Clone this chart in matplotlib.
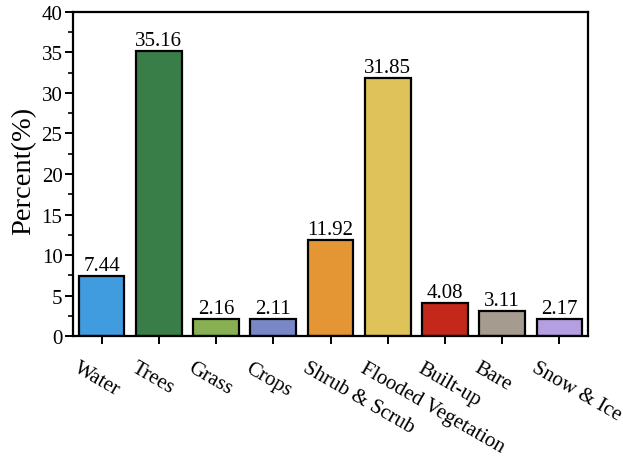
import matplotlib
matplotlib.use("Agg")
import matplotlib.pyplot as plt
from matplotlib.ticker import MultipleLocator

categories = ["Water", "Trees", "Grass", "Crops", "Shrub & Scrub",
              "Flooded Vegetation", "Built-up", "Bare", "Snow & Ice"]
percent = [7.44, 35.16, 2.16, 2.11, 11.92, 31.85, 4.08, 3.11, 2.17]
colors = ["#419BDF", "#397D49", "#88B053", "#7A87C6", "#E49635",
          "#DFC35A", "#C4281B", "#A59B8F", "#B39FE1"]

plt.rcParams["font.family"] = ["Liberation Serif", "DejaVu Serif"]

fig = plt.figure(figsize=(6.23, 4.60), dpi=100)
ax = fig.add_axes([0.117, 0.267, 0.827, 0.705])

x = list(range(len(categories)))
ax.bar(x, percent, width=0.8, color=colors, edgecolor="black", linewidth=1.6)

# value labels above each bar
for xi, v in zip(x, percent):
    ax.annotate(f"{v:.2f}", (xi, v), xytext=(0, 0.5), textcoords="offset points",
                ha="center", va="bottom", fontsize=15)

ax.set_xlim(-0.5, len(categories) - 0.5)
ax.set_ylim(0, 40)
ax.yaxis.set_major_locator(MultipleLocator(5))
ax.yaxis.set_minor_locator(MultipleLocator(2.5))
ax.set_xticks(x)
ax.set_xticklabels([])

# slanted category names, hanging below and slightly left of each tick
for xi, name in zip(x, categories):
    ax.annotate(name, xy=(xi, 0), xycoords=("data", "axes fraction"),
                xytext=(-31, -22), textcoords="offset pixels",
                rotation=-30, ha="left", va="top", fontsize=15)

ax.set_ylabel("Percent(%)", fontsize=20.5)
ax.yaxis.set_label_coords(-0.072, 0.512)
ax.tick_params(axis="y", which="major", direction="out", length=6, width=1.4,
               labelsize=15, pad=1.5)
ax.tick_params(axis="y", which="minor", direction="out", length=3.5, width=1.2)
ax.tick_params(axis="x", which="major", direction="out", length=6, width=1.4)
for sp in ax.spines.values():
    sp.set_linewidth(1.6)

fig.savefig("out.png", dpi=100)
